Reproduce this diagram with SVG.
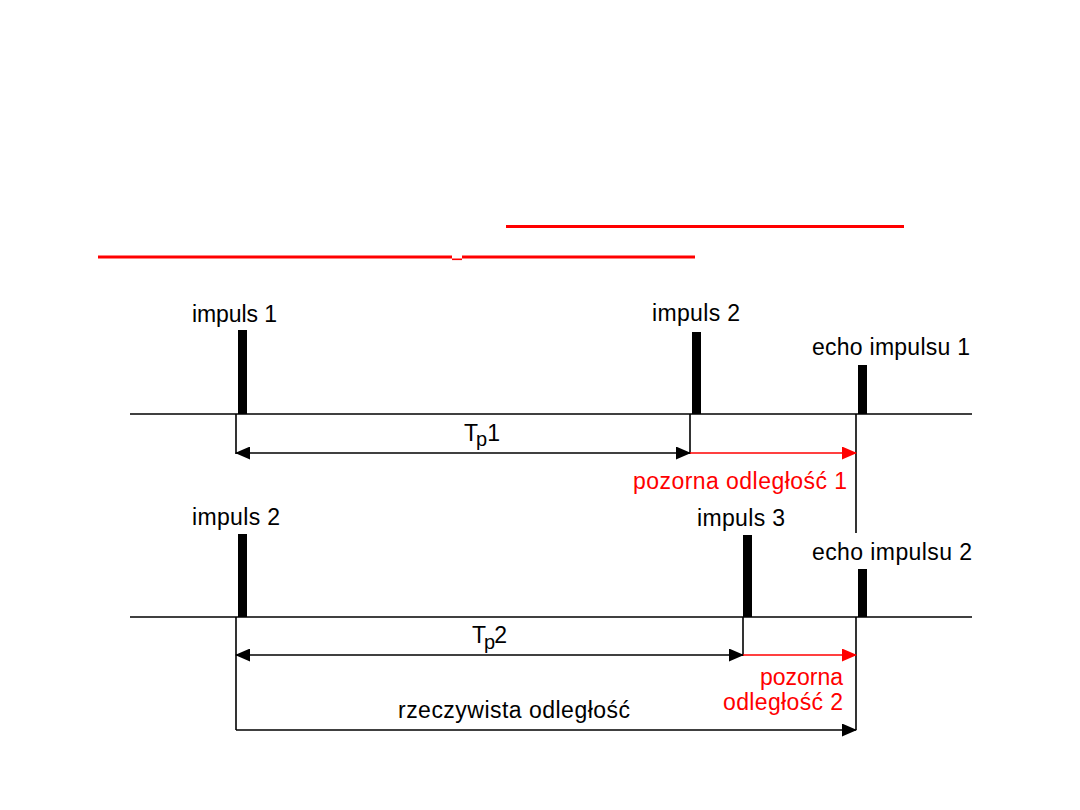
<svg xmlns="http://www.w3.org/2000/svg" width="1080" height="810" viewBox="0 0 1080 810">
<style>
text{font-family:"Liberation Sans",Arial,sans-serif;font-size:23px;fill:#000}
.red{fill:#ff0000}
.ln{stroke:#000;stroke-width:1.6;fill:none}
.rl{stroke:#ff0000;stroke-width:1.6;fill:none}
.pulse{fill:#000}
</style>
<defs>
<marker id="ah" markerUnits="userSpaceOnUse" markerWidth="15" markerHeight="13" refX="14" refY="6.5" orient="auto-start-reverse" viewBox="0 0 15 13">
<path d="M0,0 L15,6.5 L0,13 Z" fill="#000"/>
</marker>
<marker id="ahr" markerUnits="userSpaceOnUse" markerWidth="15" markerHeight="13" refX="14" refY="6.5" orient="auto" viewBox="0 0 15 13">
<path d="M0,0 L15,6.5 L0,13 Z" fill="#ff0000"/>
</marker>
</defs>
<rect width="1080" height="810" fill="#fff"/>
<g id="underlines" fill="#ff0000">
<rect x="506" y="225" width="398" height="3"/>
<rect x="98" y="255.5" width="354" height="3"/>
<rect x="452" y="258.5" width="10" height="1.6"/>
<rect x="462" y="255.5" width="233" height="3"/>
</g>
<g id="connectors">
<line class="ln" x1="130" y1="414" x2="972" y2="414"/>
<line class="ln" x1="130" y1="617" x2="972" y2="617"/>
<line class="ln" x1="236" y1="414" x2="236" y2="454"/>
<line class="ln" x1="690" y1="414" x2="690" y2="454"/>
<line class="ln" x1="856" y1="414" x2="856" y2="533"/>
<line class="ln" x1="236" y1="617" x2="236" y2="730"/>
<line class="ln" x1="743" y1="617" x2="743" y2="656"/>
<line class="ln" x1="856" y1="617" x2="856" y2="730"/>
<line class="ln" x1="236" y1="453" x2="690" y2="453" marker-start="url(#ah)" marker-end="url(#ah)"/>
<line class="rl" x1="690" y1="453" x2="856" y2="453" marker-end="url(#ahr)"/>
<line class="ln" x1="236" y1="655" x2="743" y2="655" marker-start="url(#ah)" marker-end="url(#ah)"/>
<line class="rl" x1="743" y1="655" x2="856" y2="655" marker-end="url(#ahr)"/>
<line class="ln" x1="236" y1="730" x2="856" y2="730" marker-end="url(#ah)"/>
</g>
<g id="impuls1">
<rect class="pulse" x="238" y="330" width="9" height="84"/>
<text x="192" y="322" textLength="85" lengthAdjust="spacing">impuls 1</text>
</g>
<g id="impuls2-top">
<rect class="pulse" x="692" y="332" width="9" height="82"/>
<text x="652" y="321" textLength="88" lengthAdjust="spacing">impuls 2</text>
</g>
<g id="echo1">
<rect class="pulse" x="858" y="365" width="9" height="49"/>
<text x="812" y="355" textLength="158" lengthAdjust="spacing">echo impulsu 1</text>
</g>
<g id="tp1">
<text x="464" y="441">T<tspan font-size="20" dx="-2" dy="5">p</tspan><tspan dx="0" dy="-5">1</tspan></text>
</g>
<g id="pozorna1">
<text class="red" x="633" y="489" textLength="214" lengthAdjust="spacing">pozorna odległość 1</text>
</g>
<g id="impuls2-bottom">
<rect class="pulse" x="238" y="534" width="9" height="83"/>
<text x="192" y="525" textLength="88" lengthAdjust="spacing">impuls 2</text>
</g>
<g id="impuls3">
<rect class="pulse" x="743" y="535" width="9" height="82"/>
<text x="697" y="526" textLength="88" lengthAdjust="spacing">impuls 3</text>
</g>
<g id="echo2">
<rect class="pulse" x="858" y="569" width="9" height="48"/>
<text x="812" y="560" textLength="160" lengthAdjust="spacing">echo impulsu 2</text>
</g>
<g id="tp2">
<text x="472" y="643">T<tspan font-size="20" dx="-2" dy="6">p</tspan><tspan dx="-1" dy="-6">2</tspan></text>
</g>
<g id="pozorna2">
<text class="red" x="760" y="685" textLength="83" lengthAdjust="spacing">pozorna</text>
<text class="red" x="723" y="710" textLength="120" lengthAdjust="spacing">odległość 2</text>
</g>
<g id="rzeczywista">
<text x="398" y="718" textLength="232" lengthAdjust="spacing">rzeczywista odległość</text>
</g>
</svg>
